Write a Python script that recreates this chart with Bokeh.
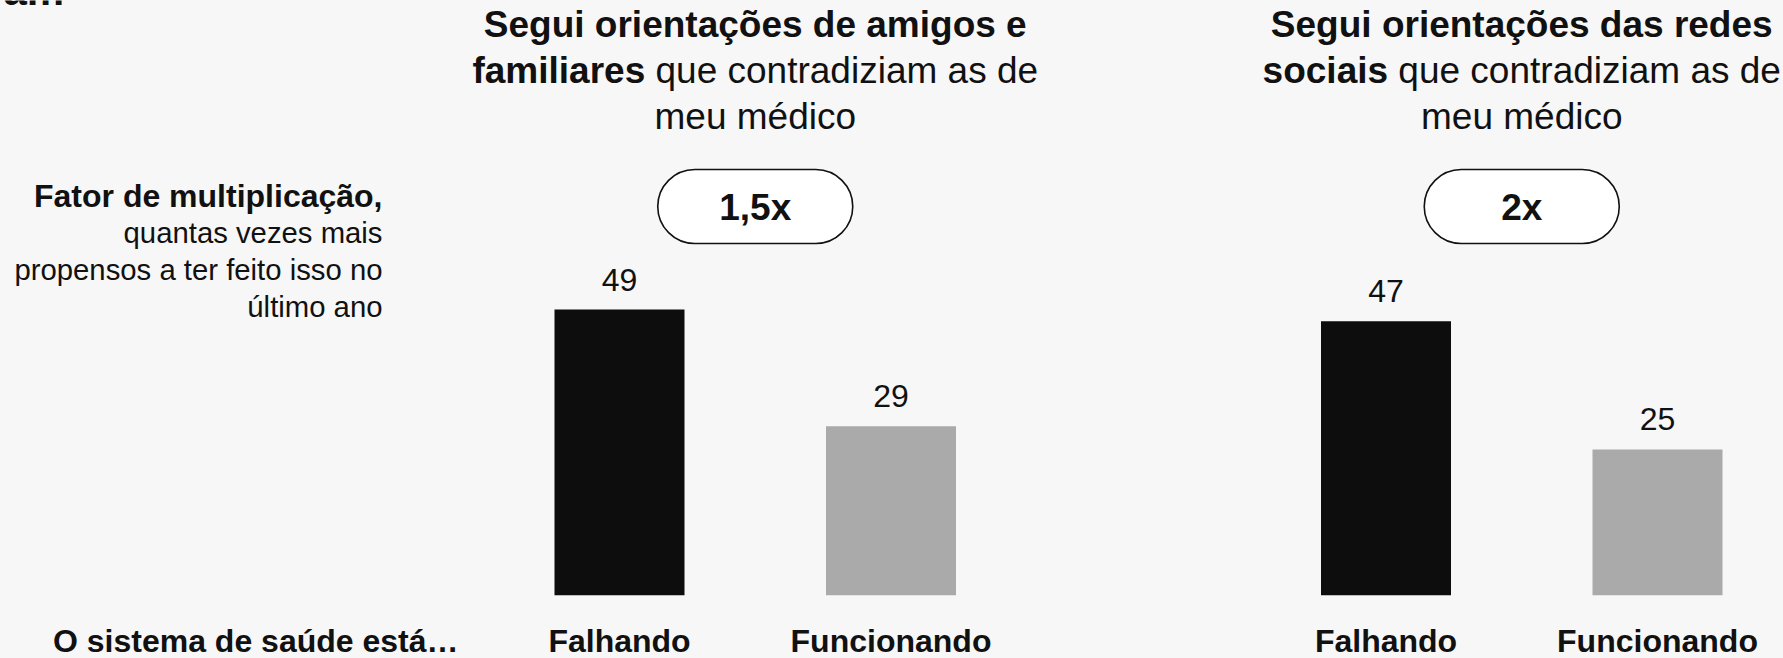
from bokeh.plotting import figure
from bokeh.models import Range1d, LabelSet, ColumnDataSource
from bokeh.embed import file_html
from bokeh.resources import INLINE
from bokeh.core.properties import value

# ---------------- data ----------------
categories = ["Falhando", "Funcionando"]
values_amigos = [49, 29]
values_redes = [47, 25]
multipliers = ["1,5x", "2x"]
title_line1 = ["Segui orientações de amigos e", "Segui orientações das redes"]
title_line2_bold = ["familiares", "sociais"]
title_line2_regular = ["que contradiziam as de", "que contradiziam as de"]
title_line3 = ["meu médico", "meu médico"]
side_title = "Fator de multiplicação,"
side_lines = ["quantas vezes mais", "propensos a ter feito isso no", "último ano"]
axis_caption = "O sistema de saúde está…"
cut_heading = "am"

# ---------------- layout / style ----------------
W, H = 1783, 658
PX_PER_UNIT = 5.83
BASE_FROM_BOTTOM = 63.3
y_start = -BASE_FROM_BOTTOM / PX_PER_UNIT
y_end = y_start + H / PX_PER_UNIT

FONT = "Liberation Sans"
BG = "#f7f7f7"
TXT = "#111111"
BAR_COLORS = ["#0d0d0d", "#aaaaaa"]
panel_centers = [754.75, 1521.25]
bar_offset = 135.75
BAR_W = 130
TITLE_SIZE = 37
BOTTOM_BASELINE = 651

REG = {' ': 278, 'a': 556, 'b': 556, 'c': 500, 'd': 556, 'e': 556, 'f': 278, 'g': 556,
       'h': 556, 'i': 222, 'l': 222, 'm': 833, 'n': 556, 'o': 556, 'p': 556, 'q': 556,
       'r': 333, 's': 500, 't': 278, 'u': 556, 'v': 500, 'x': 500, 'z': 500, 'é': 556,
       'ú': 556, 'á': 556, 'ç': 500, 'ã': 556, 'õ': 556}
BOLD = {' ': 278, 'a': 556, 'c': 556, 'd': 611, 'e': 556, 'f': 333, 'g': 611, 'h': 611,
        'i': 278, 'l': 278, 'm': 889, 'n': 611, 'o': 611, 'p': 611, 'r': 389, 's': 556,
        't': 333, 'u': 611, 'x': 556, 'ç': 556, 'õ': 611, 'ã': 556}


def text_w(s, table, size):
    return sum(table.get(c, 556) for c in s) * size / 1000.0


def data_y(top_px):
    """data-space y for a pixel distance from the top of the figure"""
    return y_start + (H - top_px) / PX_PER_UNIT


p = figure(width=W, height=H, x_range=Range1d(0, W), y_range=Range1d(y_start, y_end),
           x_axis_type=None, y_axis_type=None, toolbar_location=None,
           output_backend="svg", min_border=0,
           background_fill_color=BG, border_fill_color=BG, outline_line_color=None)


def txt(x, top_px, s, size, bold=False, align="left"):
    src_t = ColumnDataSource(dict(x=[x], y=[data_y(top_px)], t=[s]))
    p.add_layout(LabelSet(x="x", y="y", text="t", source=src_t, text_align=align,
                          text_baseline="alphabetic", text_font=value(FONT),
                          text_font_size=value(f"{size}px"),
                          text_font_style=value("bold" if bold else "normal"),
                          text_color=TXT))


# bars
xs, tops, cols, labels, cats = [], [], [], [], []
for ci, vals in zip(panel_centers, [values_amigos, values_redes]):
    for j, v in enumerate(vals):
        xs.append(ci + (j - 0.5) * 2 * bar_offset)
        tops.append(v)
        cols.append(BAR_COLORS[j])
        labels.append(str(v))
        cats.append(categories[j])
src = ColumnDataSource(dict(x=xs, top=tops, color=cols, label=labels, cat=cats,
                            cy=[data_y(BOTTOM_BASELINE)] * len(xs)))
p.vbar(x="x", top="top", bottom=0, width=BAR_W, fill_color="color",
       line_color=None, source=src)

p.add_layout(LabelSet(x="x", y="top", text="label", source=src, y_offset=19,
                      text_align="center", text_baseline="alphabetic",
                      text_font=value(FONT), text_font_size=value("32px"),
                      text_color=TXT))

# category labels under bars
p.add_layout(LabelSet(x="x", y="cy", text="cat", source=src, text_align="center",
                      text_baseline="alphabetic", text_font=value(FONT),
                      text_font_size=value("32px"), text_font_style=value("bold"),
                      text_color=TXT))

# pills with multipliers
PILL_CY = 206
p.rect(x=panel_centers, y=[data_y(PILL_CY)] * 2, width=195, height=74,
       width_units="screen", height_units="screen", fill_color="white",
       line_color=TXT, line_width=1.6, border_radius=37)
for ci, m in zip(panel_centers, multipliers):
    txt(ci, PILL_CY + 13.5, m, 37, bold=True, align="center")

# titles
BASELINES = [36, 82, 128]
for k, ci in enumerate(panel_centers):
    txt(ci, BASELINES[0], title_line1[k], TITLE_SIZE, bold=True, align="center")
    b = title_line2_bold[k]
    r = title_line2_regular[k]
    wb = text_w(b, BOLD, TITLE_SIZE)
    ws = text_w(" ", REG, TITLE_SIZE)
    wr = text_w(r, REG, TITLE_SIZE)
    start = ci - (wb + ws + wr) / 2
    txt(start, BASELINES[1], b, TITLE_SIZE, bold=True, align="left")
    txt(start + wb + ws, BASELINES[1], r, TITLE_SIZE, bold=False, align="left")
    txt(ci, BASELINES[2], title_line3[k], TITLE_SIZE, bold=False, align="center")

# side annotation
SIDE_RIGHT = 382
txt(SIDE_RIGHT, 206, side_title, 32, bold=True, align="right")
for line, top in zip(side_lines, [242, 279, 316]):
    txt(SIDE_RIGHT, top, line, 29.3, bold=False, align="right")

txt(458, BOTTOM_BASELINE, axis_caption, 32, bold=True, align="right")

# fragment of a heading cut off by the top edge of the picture
txt(3, 4, cut_heading, 42, bold=True, align="left")

html = file_html(p, INLINE, title="chart")
html = html.replace("</head>", "<style>html,body{background:#f7f7f7;}</style></head>", 1)
open("out.html", "w").write(html)
